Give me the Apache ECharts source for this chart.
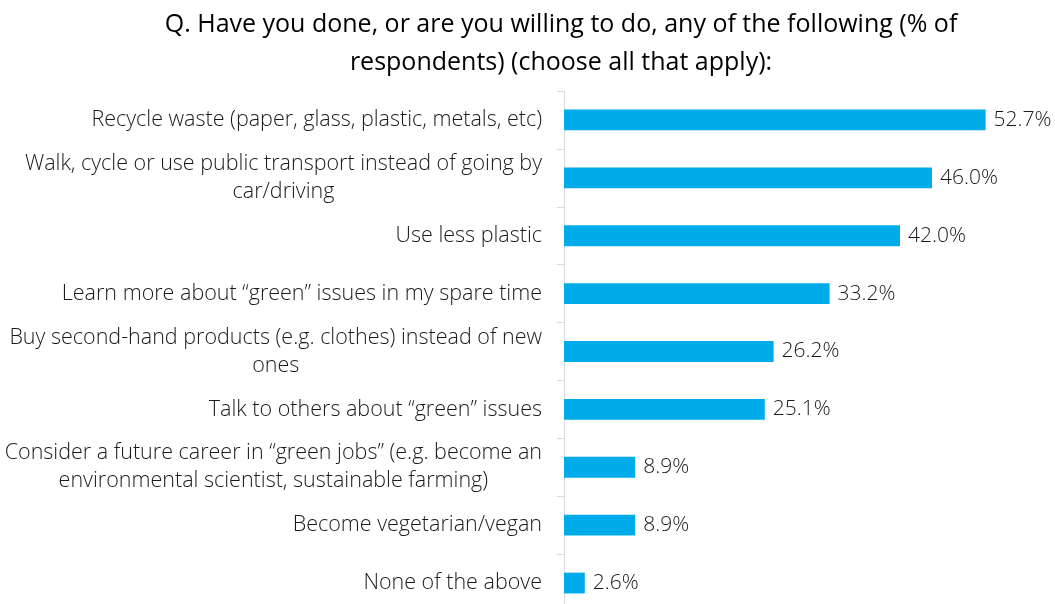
<!DOCTYPE html>
<html>
<head>
<meta charset="utf-8">
<script src="https://cdn.jsdelivr.net/npm/echarts@6/dist/echarts.min.js"></script>
<style>
  html, body { margin: 0; padding: 0; background: #ffffff; }
  #chart { width: 1055px; height: 604px; }
</style>
</head>
<body>
<div id="chart"></div>
<script>
// Survey answers, top to bottom
var categories = [
  'Recycle waste (paper, glass, plastic, metals, etc)',
  'Walk, cycle or use public transport instead of going by\ncar/driving',
  'Use less plastic',
  'Learn more about \u201cgreen\u201d issues in my spare time',
  'Buy second-hand products (e.g. clothes) instead of new\nones',
  'Talk to others about \u201cgreen\u201d issues',
  'Consider a future career in \u201cgreen jobs\u201d (e.g. become an\nenvironmental scientist, sustainable farming)',
  'Become vegetarian/vegan',
  'None of the above'
];
// Share of respondents (%)
var shares = [52.7, 46.0, 42.0, 33.2, 26.2, 25.1, 8.9, 8.9, 2.6];

var titleText = 'Q. Have you done, or are you willing to do, any of the following (% of\nrespondents) (choose all that apply):';

var chart = echarts.init(document.getElementById('chart'), null, { renderer: 'canvas' });

chart.setOption({
  animation: false,
  backgroundColor: '#ffffff',
  title: {
    text: titleText,
    left: 556,
    top: 1,
    textAlign: 'center',
    textStyle: {
      fontFamily: 'Open Sans',
      fontSize: 25,
      fontWeight: 'normal',
      color: '#000000',
      lineHeight: 38
    }
  },
  grid: {
    left: 564,
    top: 91,
    width: 480,
    height: 521,
    containLabel: false,
    outerBoundsMode: 'none'
  },
  xAxis: {
    type: 'value',
    min: 0,
    max: 60,
    show: false
  },
  yAxis: {
    type: 'category',
    data: categories,
    inverse: true,
    axisLine: { show: true, lineStyle: { color: '#d9d9d9', width: 1 } },
    axisTick: { show: true, length: 7, lineStyle: { color: '#d9d9d9' } },
    axisLabel: {
      margin: 22,
      fontFamily: 'Open Sans',
      fontWeight: 300,
      fontSize: 21.5,
      color: '#1a1a1a',
      lineHeight: 28,
      formatter: function (v) {
        return v.split('\n').map(function (line) { return '{c|' + line + '}'; }).join('\n');
      },
      rich: {
        c: {
          align: 'center',
          fontFamily: 'Open Sans',
          fontWeight: 300,
          fontSize: 21.5,
          color: '#1a1a1a',
          lineHeight: 28
        }
      }
    }
  },
  series: [{
    type: 'bar',
    data: shares,
    barWidth: '36%',
    itemStyle: { color: '#00abe9' },
    label: {
      show: true,
      position: 'right',
      distance: 8,
      fontFamily: 'Open Sans',
      fontWeight: 300,
      fontSize: 21,
      color: '#1a1a1a',
      formatter: function (p) { return p.value.toFixed(1) + '%'; }
    }
  }]
});
</script>
</body>
</html>
